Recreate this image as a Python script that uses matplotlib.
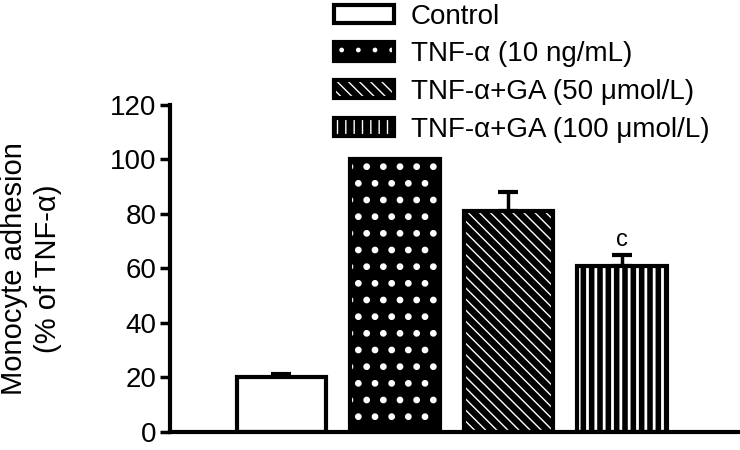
import matplotlib.pyplot as plt
from matplotlib.patches import Patch
from matplotlib.legend_handler import HandlerTuple

plt.rcParams['font.family'] = ['Liberation Sans', 'DejaVu Sans']

groups = ['Control', 'TNF-α (10 ng/mL)', 'TNF-α+GA (50 μmol/L)', 'TNF-α+GA (100 μmol/L)']
values = [20, 100, 81, 61]
errors = [1.2, 0, 7, 4]
faces = ['white', 'black', 'black', 'black']
hatches = [None, '.', '\\\\\\', '||']
hatch_lw = [1.0, 2.4, 1.0, 2.0]
marks = ['', '', '', 'c']

fig = plt.figure(figsize=(7.4, 4.5), dpi=100)
ax = fig.add_axes([0.23, 0.04, 0.767, 0.727])


def hatched(i):
    with plt.rc_context({'hatch.linewidth': hatch_lw[i]}):
        p = Patch(facecolor=faces[i], edgecolor='white', hatch=hatches[i], linewidth=0)
    return p


x = list(range(len(values)))
handles = []
for i in x:
    with plt.rc_context({'hatch.linewidth': hatch_lw[i]}):
        ax.bar(i, values[i], width=0.79, color=faces[i], edgecolor='white',
               hatch=hatches[i], linewidth=0, zorder=2)
    ax.bar(i, values[i], width=0.79, fill=False, edgecolor='black',
           linewidth=3, zorder=3)
    if errors[i] > 0:
        ax.errorbar(i, values[i], yerr=[[0], [errors[i]]], fmt='none', ecolor='black',
                    elinewidth=2.5, capsize=7, capthick=3, zorder=1)
    if marks[i]:
        ax.text(i, values[i] + errors[i] + 1.5, marks[i], ha='center', va='bottom', fontsize=17)
    handles.append((hatched(i), Patch(fill=False, edgecolor='black', linewidth=3)))

ax.set_xlim(-0.98, 4.02)
ax.set_ylim(0, 120)
ax.set_yticks([0, 20, 40, 60, 80, 100, 120])
ax.set_xticks([])
ax.spines['top'].set_visible(False)
ax.spines['right'].set_visible(False)
ax.spines['left'].set_linewidth(3)
ax.spines['bottom'].set_linewidth(3)
ax.tick_params(axis='y', labelsize=20, width=2.5, length=7, pad=3)
ax.set_ylabel('Monocyte adhesion\n(% of TNF-α)', fontsize=21, linespacing=1.3)
ax.yaxis.set_label_coords(-0.19, 0.5)

fig.legend(handles, groups, handler_map={tuple: HandlerTuple(ndivide=1, pad=0)},
           loc='upper left', bbox_to_anchor=(0.452, 0.992), frameon=False,
           fontsize=20, handlelength=2.15, handleheight=0.65, labelspacing=0.42,
           handletextpad=0.6, borderaxespad=0, borderpad=0)

fig.savefig('out.png', dpi=100)
